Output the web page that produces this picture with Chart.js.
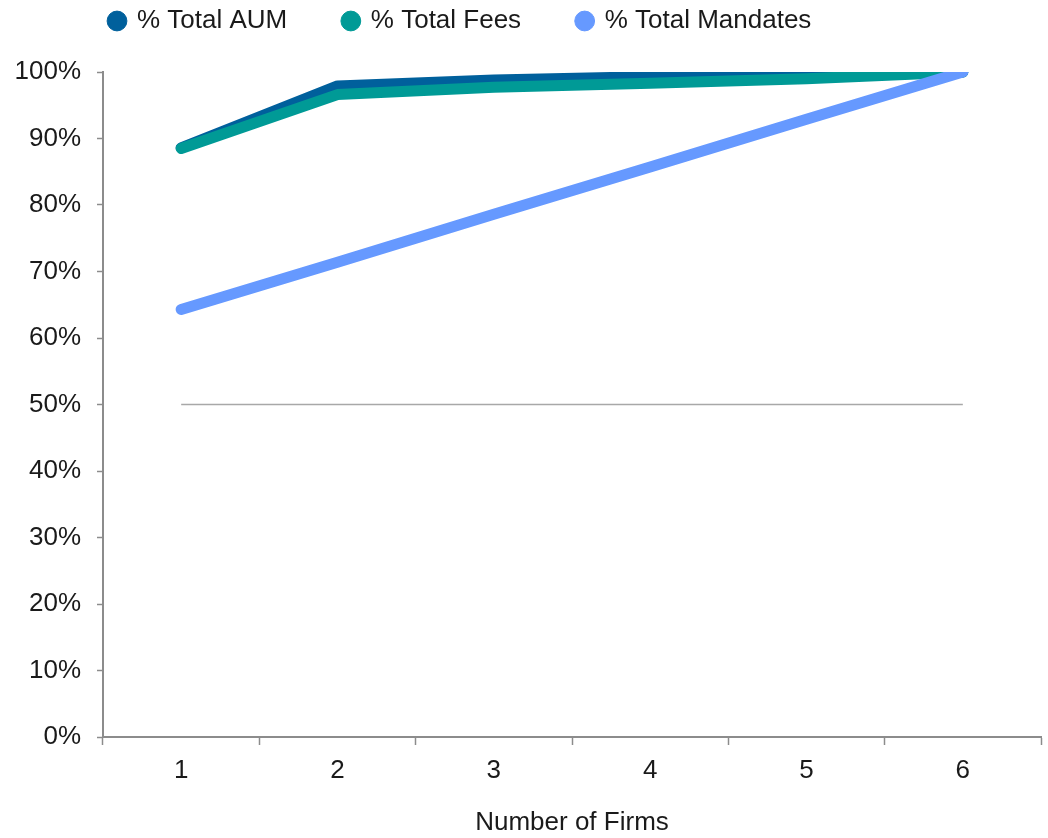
<!DOCTYPE html>
<html>
<head>
<meta charset="utf-8">
<script src="https://cdn.jsdelivr.net/npm/chart.js@4/dist/chart.umd.min.js"></script>
<style>
  html, body { margin: 0; padding: 0; background: #fff; }
  #wrap { width: 1048px; height: 838px; }
</style>
</head>
<body>
<div id="wrap"><canvas id="firmsChart" width="1048" height="838"></canvas></div>
<script>
const firms       = ['1', '2', '3', '4', '5', '6'];
const pctAUM      = [88.6, 97.9, 98.8, 99.3, 99.6, 100];
const pctFees     = [88.5, 96.6, 97.7, 98.3, 99.0, 100];
const pctMandates = [64.3, 71.4, 78.6, 85.7, 92.9, 100];
const midLine     = [50, 50, 50, 50, 50, 50];

const axisGrey = '#8c8c8c';
const textCol = '#1a1a1a';
const font = 'Liberation Sans, Arial, sans-serif';

// legend lines up with the y axis and hugs the top edge
const legendPlacement = {
  id: 'legendPlacement',
  afterLayout(chart) {
    const lg = chart.legend;
    lg.left = 104;
    lg.top -= 28;
    lg.bottom -= 28;
  }
};

const ctx = document.getElementById('firmsChart').getContext('2d');

new Chart(ctx, {
  type: 'line',
  data: {
    labels: firms,
    datasets: [
      { label: '% Total AUM', data: pctAUM, borderColor: '#00609c', backgroundColor: '#00609c', order: 3 },
      { label: '% Total Fees', data: pctFees, borderColor: '#009a96', backgroundColor: '#009a96', order: 2 },
      { label: '% Total Mandates', data: pctMandates, borderColor: '#6699ff', backgroundColor: '#6699ff', order: 1 },
      { label: '50%', data: midLine, borderColor: '#a8a8a8', borderWidth: 1.5, order: 4, borderCapStyle: 'butt' }
    ]
  },
  plugins: [legendPlacement],
  options: {
    responsive: false,
    animation: false,
    layout: { padding: { left: 0, right: 7, top: 30, bottom: 0 } },
    elements: {
      point: { radius: 0, hoverRadius: 0 },
      line: { tension: 0, borderWidth: 11, borderCapStyle: 'round', borderJoinStyle: 'round', fill: false }
    },
    plugins: {
      tooltip: { enabled: false },
      legend: {
        position: 'top',
        align: 'start',
        labels: {
          usePointStyle: true,
          pointStyle: 'circle',
          boxWidth: 14,
          boxHeight: 14,
          padding: 6,
          color: textCol,
          font: { family: font, size: 26 },
          filter: item => item.text !== '50%',
          sort: (a, b) => a.datasetIndex - b.datasetIndex,
          generateLabels: chart => Chart.defaults.plugins.legend.labels.generateLabels(chart)
            .map((item, i, all) => i < all.length - 1 ? { ...item, text: item.text + '       ' } : item)
        }
      }
    },
    scales: {
      x: {
        offset: true,
        afterFit: s => { s.height = 101; },
        grid: { offset: true, drawOnChartArea: false, color: axisGrey, tickLength: 8, tickWidth: 1.5 },
        border: { color: axisGrey, width: 2 },
        ticks: { color: textCol, font: { family: font, size: 26 }, padding: 10 },
        title: {
          display: true, text: 'Number of Firms', color: textCol,
          font: { family: font, size: 26 }, padding: { top: 24, bottom: 0 }
        }
      },
      y: {
        min: 0, max: 100,
        afterFit: s => { s.width = 103; },
        grid: { drawOnChartArea: false, color: axisGrey, tickLength: 6, tickWidth: 1.5 },
        border: { color: axisGrey, width: 2 },
        ticks: {
          stepSize: 10, color: textCol, font: { family: font, size: 26 }, padding: 16,
          callback: v => v + '%'
        }
      }
    }
  }
});
</script>
</body>
</html>
